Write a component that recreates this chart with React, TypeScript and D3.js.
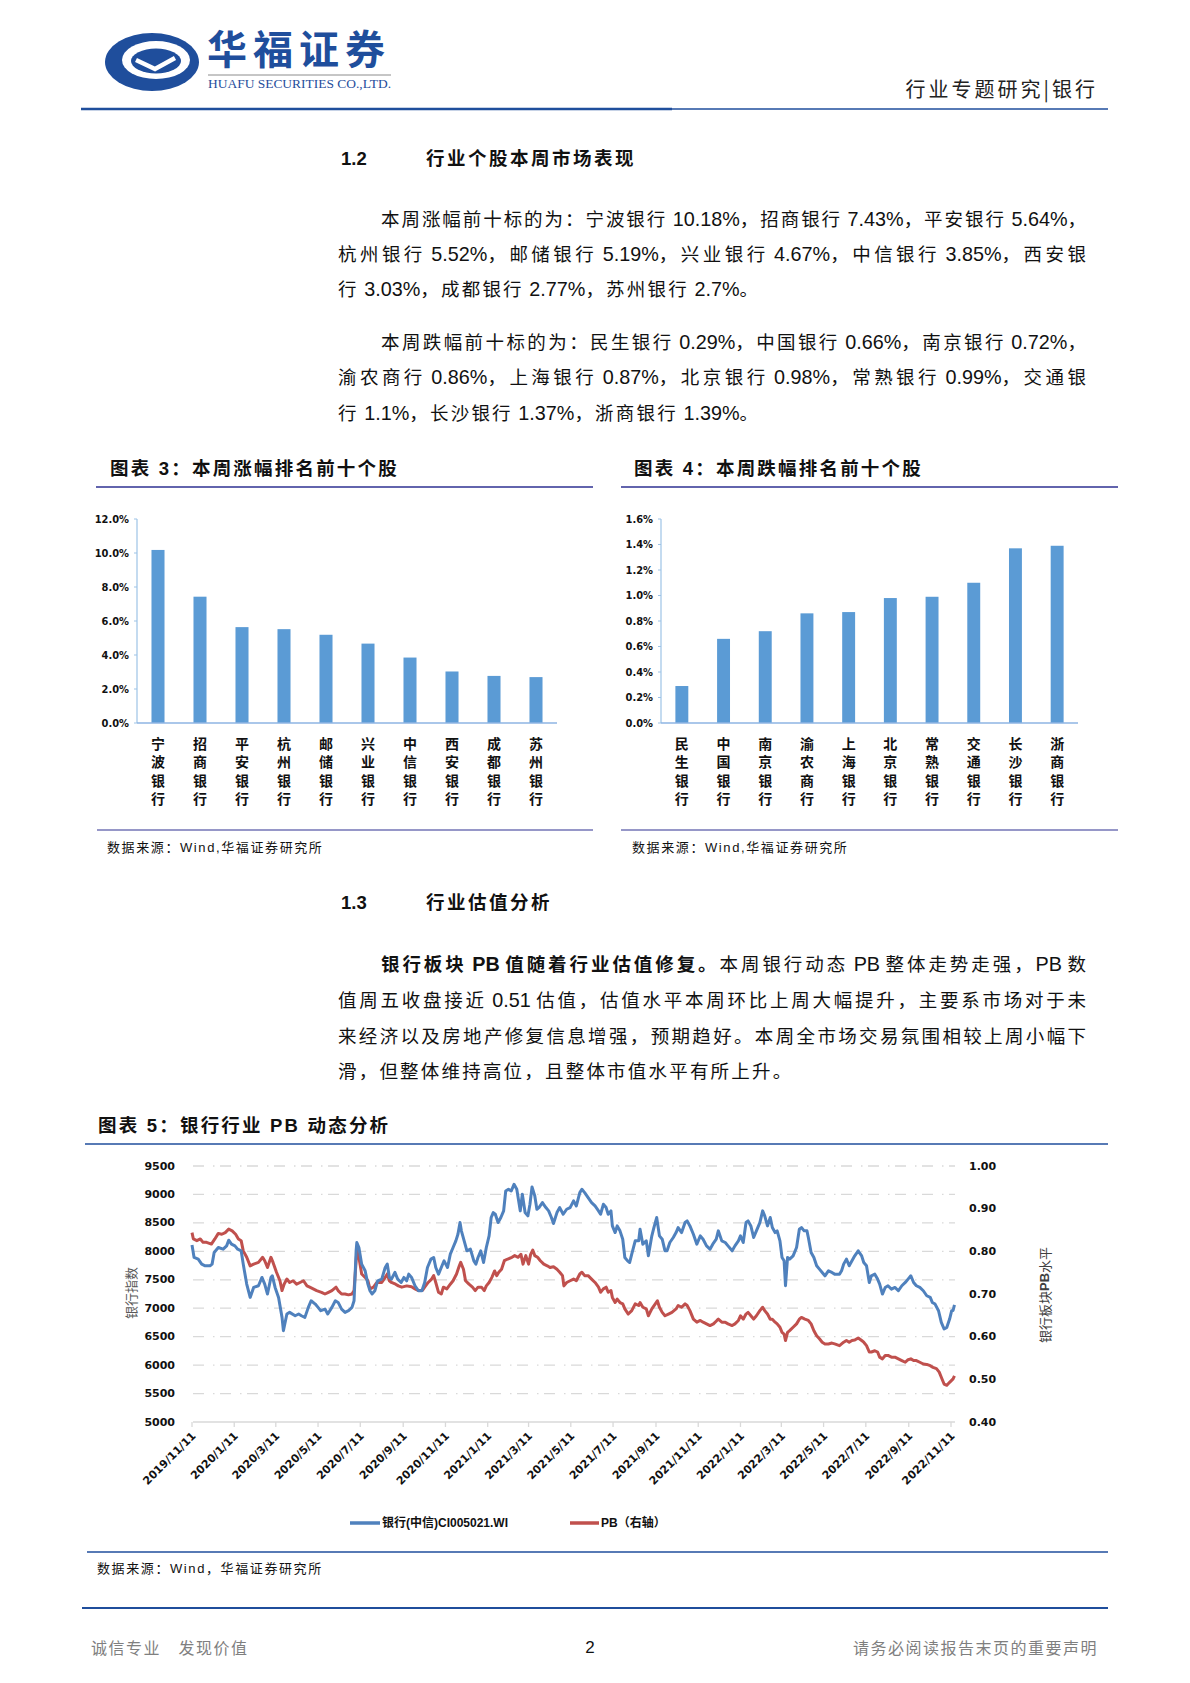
import React, { useLayoutEffect, useRef, useState } from "react";
import * as d3 from "d3";

// ---- data: 本周涨幅 / 跌幅前十 ----
const gainNames = ["宁波银行", "招商银行", "平安银行", "杭州银行", "邮储银行", "兴业银行", "中信银行", "西安银行", "成都银行", "苏州银行"];
const gainValues = [10.18, 7.43, 5.64, 5.52, 5.19, 4.67, 3.85, 3.03, 2.77, 2.7];
const lossNames = ["民生银行", "中国银行", "南京银行", "渝农商行", "上海银行", "北京银行", "常熟银行", "交通银行", "长沙银行", "浙商银行"];
const lossValues = [0.29, 0.66, 0.72, 0.86, 0.87, 0.98, 0.99, 1.1, 1.37, 1.39];

// ---- data: 银行(中信) 指数 ----
const bankDates = [
  "2019-11-11", "2019-11-14", "2019-11-20", "2019-11-25", "2019-11-30", "2019-12-07", "2019-12-10", "2019-12-13", "2019-12-19", "2019-12-26",
  "2019-12-31", "2020-01-03", "2020-01-07", "2020-01-12", "2020-01-16", "2020-01-21", "2020-01-24", "2020-01-29", "2020-02-03", "2020-02-08",
  "2020-02-15", "2020-02-20", "2020-02-24", "2020-02-28", "2020-03-04", "2020-03-06", "2020-03-10", "2020-03-15", "2020-03-20", "2020-03-22",
  "2020-03-24", "2020-03-27", "2020-03-31", "2020-04-08", "2020-04-13", "2020-04-17", "2020-04-22", "2020-04-27", "2020-05-01", "2020-05-07",
  "2020-05-11", "2020-05-15", "2020-05-21", "2020-05-25", "2020-05-31", "2020-06-05", "2020-06-09", "2020-06-14", "2020-06-19", "2020-06-24",
  "2020-06-29", "2020-07-02", "2020-07-05", "2020-07-06", "2020-07-09", "2020-07-13", "2020-07-18", "2020-07-22", "2020-07-25", "2020-07-28",
  "2020-08-01", "2020-08-05", "2020-08-11", "2020-08-16", "2020-08-19", "2020-08-22", "2020-08-25", "2020-08-30", "2020-09-03", "2020-09-08",
  "2020-09-12", "2020-09-16", "2020-09-19", "2020-09-23", "2020-09-28", "2020-10-03", "2020-10-08", "2020-10-12", "2020-10-16", "2020-10-21",
  "2020-10-25", "2020-10-28", "2020-11-01", "2020-11-06", "2020-11-09", "2020-11-14", "2020-11-18", "2020-11-22", "2020-11-26", "2020-11-29",
  "2020-12-02", "2020-12-04", "2020-12-08", "2020-12-12", "2020-12-17", "2020-12-22", "2020-12-25", "2020-12-28", "2021-01-01", "2021-01-05",
  "2021-01-09", "2021-01-13", "2021-01-16", "2021-01-19", "2021-01-22", "2021-01-26", "2021-01-30", "2021-02-03", "2021-02-06", "2021-02-10",
  "2021-02-14", "2021-02-18", "2021-02-22", "2021-02-27", "2021-03-02", "2021-03-06", "2021-03-10", "2021-03-13", "2021-03-16", "2021-03-20",
  "2021-03-23", "2021-03-26", "2021-03-31", "2021-04-05", "2021-04-09", "2021-04-13", "2021-04-16", "2021-04-21", "2021-04-25", "2021-04-30",
  "2021-05-05", "2021-05-10", "2021-05-15", "2021-05-19", "2021-05-24", "2021-05-27", "2021-05-31", "2021-06-05", "2021-06-10", "2021-06-15",
  "2021-06-20", "2021-06-23", "2021-06-27", "2021-07-01", "2021-07-04", "2021-07-08", "2021-07-10", "2021-07-14", "2021-07-17", "2021-07-21",
  "2021-07-25", "2021-07-28", "2021-08-01", "2021-08-04", "2021-08-07", "2021-08-12", "2021-08-17", "2021-08-19", "2021-08-23", "2021-08-28",
  "2021-08-31", "2021-09-05", "2021-09-08", "2021-09-12", "2021-09-16", "2021-09-20", "2021-09-24", "2021-09-27", "2021-10-01", "2021-10-06",
  "2021-10-10", "2021-10-13", "2021-10-18", "2021-10-23", "2021-10-26", "2021-10-30", "2021-11-04", "2021-11-09", "2021-11-14", "2021-11-18",
  "2021-11-23", "2021-11-28", "2021-12-02", "2021-12-07", "2021-12-10", "2021-12-15", "2021-12-20", "2021-12-24", "2021-12-30", "2022-01-03",
  "2022-01-08", "2022-01-11", "2022-01-15", "2022-01-19", "2022-01-22", "2022-01-26", "2022-01-30", "2022-02-03", "2022-02-08", "2022-02-12",
  "2022-02-15", "2022-02-19", "2022-02-23", "2022-02-26", "2022-03-02", "2022-03-05", "2022-03-09", "2022-03-12", "2022-03-15", "2022-03-17",
  "2022-03-20", "2022-03-23", "2022-03-28", "2022-04-02", "2022-04-06", "2022-04-09", "2022-04-13", "2022-04-17", "2022-04-19", "2022-04-23",
  "2022-04-27", "2022-05-01", "2022-05-05", "2022-05-09", "2022-05-13", "2022-05-18", "2022-05-23", "2022-05-27", "2022-06-03", "2022-06-06",
  "2022-06-09", "2022-06-13", "2022-06-17", "2022-06-21", "2022-06-25", "2022-06-30", "2022-07-05", "2022-07-08", "2022-07-12", "2022-07-16",
  "2022-07-19", "2022-07-24", "2022-07-28", "2022-07-31", "2022-08-04", "2022-08-08", "2022-08-12", "2022-08-17", "2022-08-22", "2022-08-27",
  "2022-09-01", "2022-09-06", "2022-09-10", "2022-09-14", "2022-09-18", "2022-09-22", "2022-09-27", "2022-10-02", "2022-10-07", "2022-10-12",
  "2022-10-15", "2022-10-19", "2022-10-24", "2022-10-28", "2022-11-01", "2022-11-05", "2022-11-09", "2022-11-12", "2022-11-14", "2022-11-16",
];
const bankValues = [
  8110, 7892, 7863, 7775, 7746, 7746, 7775, 7980, 8067, 8038,
  8096, 8196, 8126, 8096, 8038, 8009, 7775, 7424, 7190, 7365,
  7395, 7541, 7424, 7249, 7541, 7570, 7365, 7190, 6839, 6605,
  6722, 6898, 6927, 6868, 6898, 6868, 6839, 7015, 7131, 7073,
  7015, 6956, 6985, 6898, 7015, 7131, 7102, 6985, 6927, 6956,
  7015, 7131, 8009, 8155, 8067, 7775, 7658, 7424, 7307, 7249,
  7307, 7482, 7512, 7716, 7775, 7541, 7512, 7629, 7512, 7453,
  7541, 7482, 7599, 7541, 7395, 7307, 7307, 7453, 7716, 7863,
  7892, 7716, 7599, 7746, 7833, 7716, 7950, 8067, 8184, 8301,
  8506, 8360, 8184, 8009, 8038, 7833, 7775, 7892, 8009, 7804,
  8067, 8272, 8594, 8681, 8652, 8506, 8594, 8711, 9061, 9091,
  9061, 9178, 9091, 8711, 9003, 8681, 8623, 8827, 9132, 8974,
  8740, 8769, 8857, 8769, 8711, 8594, 8488, 8681, 8769, 8652,
  8740, 8769, 8886, 8798, 9032, 9091, 9032, 8944, 8857, 8798,
  8711, 8652, 8827, 8769, 8652, 8711, 8447, 8330, 8447, 8360,
  8213, 7892, 7833, 7804, 7950, 8184, 8184, 8389, 8126, 8184,
  7921, 8272, 8418, 8594, 8272, 8213, 8009, 8009, 8155, 8243,
  8330, 8418, 8330, 8506, 8535, 8447, 8301, 8126, 8272, 8213,
  8096, 8038, 8126, 8213, 8360, 8184, 8155, 8096, 8009, 8096,
  8184, 8272, 8155, 8506, 8535, 8447, 8243, 8360, 8506, 8711,
  8623, 8447, 8594, 8418, 8330, 8360, 8184, 7892, 7833, 7395,
  7892, 7863, 7921, 8067, 8389, 8418, 8360, 8360, 8243, 7980,
  7892, 7746, 7687, 7629, 7570, 7658, 7629, 7599, 7599, 7658,
  7775, 7863, 7746, 7833, 7921, 8009, 7921, 7804, 7746, 7453,
  7570, 7599, 7512, 7424, 7249, 7365, 7395, 7336, 7365, 7307,
  7395, 7453, 7512, 7570, 7453, 7395, 7365, 7307, 7219, 7190,
  7102, 7073, 6956, 6751, 6635, 6664, 6810, 6956, 6960, 7060,
];

// ---- data: PB（右轴）----
const pbDates = [
  "2019-11-11", "2019-11-13", "2019-11-18", "2019-11-23", "2019-11-27", "2019-12-02", "2019-12-09", "2019-12-14", "2019-12-19", "2019-12-24",
  "2019-12-29", "2020-01-03", "2020-01-08", "2020-01-13", "2020-01-17", "2020-01-21", "2020-01-24", "2020-01-29", "2020-02-03", "2020-02-08",
  "2020-02-15", "2020-02-21", "2020-02-24", "2020-02-28", "2020-03-04", "2020-03-07", "2020-03-12", "2020-03-17", "2020-03-20", "2020-03-23",
  "2020-03-27", "2020-03-31", "2020-04-05", "2020-04-10", "2020-04-15", "2020-04-20", "2020-04-25", "2020-04-29", "2020-05-04", "2020-05-09",
  "2020-05-16", "2020-05-21", "2020-05-26", "2020-05-31", "2020-06-06", "2020-06-09", "2020-06-14", "2020-06-19", "2020-06-24", "2020-06-29",
  "2020-07-02", "2020-07-05", "2020-07-06", "2020-07-09", "2020-07-13", "2020-07-18", "2020-07-22", "2020-07-25", "2020-07-30", "2020-08-04",
  "2020-08-11", "2020-08-16", "2020-08-19", "2020-08-22", "2020-08-25", "2020-08-31", "2020-09-04", "2020-09-09", "2020-09-16", "2020-09-23",
  "2020-09-28", "2020-10-03", "2020-10-09", "2020-10-12", "2020-10-17", "2020-10-22", "2020-10-25", "2020-10-28", "2020-11-01", "2020-11-05",
  "2020-11-08", "2020-11-13", "2020-11-18", "2020-11-22", "2020-11-27", "2020-12-01", "2020-12-03", "2020-12-07", "2020-12-10", "2020-12-15",
  "2020-12-20", "2020-12-24", "2020-12-28", "2021-01-02", "2021-01-06", "2021-01-09", "2021-01-13", "2021-01-17", "2021-01-21", "2021-01-24",
  "2021-01-27", "2021-01-31", "2021-02-04", "2021-02-09", "2021-02-15", "2021-02-19", "2021-02-24", "2021-02-28", "2021-03-03", "2021-03-07",
  "2021-03-11", "2021-03-14", "2021-03-17", "2021-03-20", "2021-03-24", "2021-03-28", "2021-04-02", "2021-04-07", "2021-04-11", "2021-04-16",
  "2021-04-21", "2021-04-25", "2021-04-29", "2021-05-01", "2021-05-05", "2021-05-10", "2021-05-15", "2021-05-19", "2021-05-24", "2021-05-27",
  "2021-05-31", "2021-06-05", "2021-06-10", "2021-06-15", "2021-06-20", "2021-06-23", "2021-06-27", "2021-07-01", "2021-07-04", "2021-07-08",
  "2021-07-10", "2021-07-14", "2021-07-17", "2021-07-21", "2021-07-25", "2021-07-28", "2021-08-02", "2021-08-07", "2021-08-12", "2021-08-17",
  "2021-08-19", "2021-08-23", "2021-08-28", "2021-08-31", "2021-09-05", "2021-09-10", "2021-09-13", "2021-09-16", "2021-09-20", "2021-09-24",
  "2021-09-29", "2021-10-04", "2021-10-10", "2021-10-13", "2021-10-18", "2021-10-23", "2021-10-26", "2021-10-30", "2021-11-04", "2021-11-09",
  "2021-11-14", "2021-11-18", "2021-11-23", "2021-11-28", "2021-12-03", "2021-12-08", "2021-12-10", "2021-12-15", "2021-12-20", "2021-12-24",
  "2021-12-30", "2022-01-03", "2022-01-08", "2022-01-11", "2022-01-15", "2022-01-19", "2022-01-22", "2022-01-26", "2022-01-30", "2022-02-03",
  "2022-02-08", "2022-02-12", "2022-02-15", "2022-02-19", "2022-02-23", "2022-02-26", "2022-03-02", "2022-03-05", "2022-03-09", "2022-03-12",
  "2022-03-15", "2022-03-17", "2022-03-20", "2022-03-23", "2022-03-28", "2022-04-02", "2022-04-06", "2022-04-09", "2022-04-14", "2022-04-19",
  "2022-04-23", "2022-04-27", "2022-05-01", "2022-05-05", "2022-05-09", "2022-05-13", "2022-05-18", "2022-05-23", "2022-05-27", "2022-06-03",
  "2022-06-06", "2022-06-09", "2022-06-13", "2022-06-17", "2022-06-21", "2022-06-25", "2022-06-30", "2022-07-05", "2022-07-08", "2022-07-12",
  "2022-07-16", "2022-07-19", "2022-07-24", "2022-07-28", "2022-07-31", "2022-08-04", "2022-08-08", "2022-08-12", "2022-08-17", "2022-08-22",
  "2022-08-27", "2022-09-01", "2022-09-06", "2022-09-10", "2022-09-14", "2022-09-18", "2022-09-22", "2022-09-27", "2022-10-02", "2022-10-07",
  "2022-10-12", "2022-10-16", "2022-10-21", "2022-10-25", "2022-10-28", "2022-11-01", "2022-11-05", "2022-11-09", "2022-11-14", "2022-11-16",
];
const pbValues = [
  0.844, 0.829, 0.825, 0.829, 0.821, 0.821, 0.817, 0.829, 0.842, 0.84,
  0.844, 0.852, 0.848, 0.84, 0.829, 0.825, 0.801, 0.786, 0.766, 0.77,
  0.774, 0.786, 0.778, 0.762, 0.786, 0.774, 0.751, 0.731, 0.708, 0.723,
  0.735, 0.727, 0.731, 0.723, 0.727, 0.731, 0.719, 0.716, 0.712, 0.708,
  0.704, 0.7, 0.704, 0.708, 0.716, 0.708, 0.7, 0.7, 0.698, 0.7,
  0.708, 0.778, 0.801, 0.786, 0.747, 0.739, 0.731, 0.712, 0.716, 0.727,
  0.727, 0.739, 0.747, 0.731, 0.727, 0.723, 0.719, 0.716, 0.719, 0.717,
  0.712, 0.708, 0.709, 0.716, 0.727, 0.735, 0.743, 0.727, 0.704, 0.7,
  0.716, 0.712, 0.723, 0.731, 0.747, 0.766, 0.774, 0.758, 0.731, 0.723,
  0.716, 0.708, 0.716, 0.716, 0.708, 0.719, 0.727, 0.739, 0.754, 0.743,
  0.751, 0.758, 0.778, 0.782, 0.786, 0.79, 0.786, 0.793, 0.77, 0.79,
  0.77, 0.793, 0.803, 0.79, 0.786, 0.778, 0.77, 0.766, 0.762, 0.764,
  0.758, 0.751, 0.743, 0.719, 0.727, 0.731, 0.735, 0.731, 0.747, 0.751,
  0.743, 0.743, 0.735, 0.727, 0.716, 0.704, 0.712, 0.716, 0.704, 0.708,
  0.692, 0.68, 0.688, 0.68, 0.677, 0.665, 0.653, 0.661, 0.677, 0.673,
  0.68, 0.669, 0.665, 0.649, 0.665, 0.677, 0.684, 0.669, 0.657, 0.649,
  0.653, 0.657, 0.665, 0.673, 0.669, 0.677, 0.673, 0.661, 0.641, 0.634,
  0.638, 0.634, 0.63, 0.626, 0.63, 0.638, 0.641, 0.634, 0.634, 0.63,
  0.626, 0.63, 0.638, 0.649, 0.641, 0.653, 0.657, 0.649, 0.641, 0.649,
  0.661, 0.669, 0.661, 0.653, 0.641, 0.641, 0.634, 0.63, 0.622, 0.61,
  0.606, 0.591, 0.61, 0.614, 0.622, 0.63, 0.641, 0.645, 0.641, 0.638,
  0.63, 0.614, 0.602, 0.595, 0.587, 0.583, 0.583, 0.585, 0.583, 0.579,
  0.583, 0.587, 0.591, 0.587, 0.591, 0.592, 0.597, 0.591, 0.587, 0.579,
  0.564, 0.564, 0.567, 0.564, 0.552, 0.548, 0.556, 0.556, 0.552, 0.552,
  0.548, 0.544, 0.54, 0.546, 0.548, 0.544, 0.544, 0.54, 0.536, 0.535,
  0.532, 0.528, 0.525, 0.517, 0.505, 0.489, 0.486, 0.493, 0.501, 0.508,
];

const xTickLabels = [
  "2019/11/11", "2020/1/11", "2020/3/11", "2020/5/11", "2020/7/11", "2020/9/11", "2020/11/11", "2021/1/11", "2021/3/11", "2021/5/11",
  "2021/7/11", "2021/9/11", "2021/11/11", "2022/1/11", "2022/3/11", "2022/5/11", "2022/7/11", "2022/9/11", "2022/11/11",
];
const leftTicks = [5000, 5500, 6000, 6500, 7000, 7500, 8000, 8500, 9000, 9500];
const rightTicks = [0.4, 0.5, 0.6, 0.7, 0.8, 0.9, 1.0];

const CJK = '"Noto Sans CJK SC", sans-serif';
const MIX = '"Liberation Sans", Arial, "Noto Sans CJK SC", sans-serif';
const NAVY = "#1F4E9C";
const BAR = "#5B9BD5";

type BarProps = {
  names: string[];
  values: number[];
  x0: number;
  x1: number;
  max: number;
  step: number;
};

function BarChart({ names, values, x0, x1, max, step }: BarProps) {
  const top = 519;
  const bottom = 723;
  const x = d3.scaleBand().domain(names).range([x0, x1]).paddingInner(0.69).paddingOuter(0.345);
  const y = d3.scaleLinear().domain([0, max]).range([bottom, top]);
  const ticks = d3.range(0, max + step / 2, step);
  return (
    <g>
      {names.map((n, i) => (
        <rect key={n} x={x(n)} y={y(values[i])} width={x.bandwidth()} height={bottom - y(values[i])} fill={BAR} />
      ))}
      <line x1={x0} x2={x0} y1={top} y2={bottom} stroke="#9DC3E6" strokeWidth={1.2} />
      <line x1={x0} x2={x1} y1={bottom} y2={bottom} stroke="#8EB4E3" strokeWidth={1.5} />
      {ticks.map((t) => (
        <g key={t}>
          <line x1={x0 - 3} x2={x0} y1={y(t)} y2={y(t)} stroke="#9DC3E6" />
          <text x={x0 - 8} y={y(t)} dominantBaseline="central" textAnchor="end" fontFamily='"DejaVu Sans Condensed", "DejaVu Sans", sans-serif' fontWeight="bold" fontSize={11} fill="#111">
            {t.toFixed(1) + "%"}
          </text>
        </g>
      ))}
      {names.map((n) => (
        <text key={"l" + n} textAnchor="middle" fontFamily={CJK} fontWeight={700} fontSize={14} fill="#111">
          {n.split("").map((c, j) => (
            <tspan key={j} x={(x(n) as number) + x.bandwidth() / 2} y={743 + j * 18.3} dominantBaseline="central">
              {c}
            </tspan>
          ))}
        </text>
      ))}
    </g>
  );
}

function LineChart() {
  const parse = d3.timeParse("%Y-%m-%d");
  const parseTick = d3.timeParse("%Y/%m/%d");
  const left = 193;
  const right = 955;
  const top = 1166;
  const bottom = 1422;
  const x = d3.scaleTime().domain([parseTick("2019/11/11") as Date, parseTick("2022/11/11") as Date]).range([192, 951]);
  const yL = d3.scaleLinear().domain([5000, 9500]).range([bottom, top]);
  const yR = d3.scaleLinear().domain([0.4, 1.0]).range([bottom, top]);
  const bankPts: [Date, number][] = bankDates.map((d, i) => [parse(d) as Date, bankValues[i]]);
  const pbPts: [Date, number][] = pbDates.map((d, i) => [parse(d) as Date, pbValues[i]]);
  const bankLine = d3.line<[Date, number]>().x((d) => x(d[0])).y((d) => yL(d[1]));
  const pbLine = d3.line<[Date, number]>().x((d) => x(d[0])).y((d) => yR(d[1]));
  const axisFont = '"DejaVu Sans", Verdana, sans-serif';
  return (
    <g>
      {leftTicks.slice(1).map((t) => (
        <line key={t} x1={left} x2={right} y1={yL(t)} y2={yL(t)} stroke="#D9D9D9" strokeWidth={1.3} strokeDasharray="11 9 1.5 5.5" />
      ))}
      <line x1={left} x2={right} y1={bottom} y2={bottom} stroke="#D9D9D9" strokeWidth={1.5} />
      {xTickLabels.map((l) => {
        const tx = x(parseTick(l) as Date);
        return (
          <g key={l}>
            <line x1={tx} x2={tx} y1={bottom} y2={bottom + 5} stroke="#D9D9D9" strokeWidth={1.3} />
            <text transform={`translate(${tx + 2},${bottom + 12}) rotate(-45)`} textAnchor="end" dominantBaseline="central" fontFamily={axisFont} fontWeight="bold" fontSize={11} fill="#111">
              {l}
            </text>
          </g>
        );
      })}
      {leftTicks.map((t) => (
        <text key={t} x={175} y={yL(t)} textAnchor="end" dominantBaseline="central" fontFamily={axisFont} fontWeight="bold" fontSize={11} fill="#111">
          {t}
        </text>
      ))}
      {rightTicks.map((t) => (
        <text key={t} x={969} y={yR(t)} dominantBaseline="central" fontFamily={axisFont} fontWeight="bold" fontSize={11} fill="#111">
          {t.toFixed(2)}
        </text>
      ))}
      <path d={pbLine(pbPts) as string} fill="none" stroke="#C0504D" strokeWidth={3} strokeLinejoin="round" />
      <path d={bankLine(bankPts) as string} fill="none" stroke="#4F81BD" strokeWidth={3} strokeLinejoin="round" />
      <text transform="translate(130,1293) rotate(-90)" textAnchor="middle" dominantBaseline="central" fontFamily={CJK} fontSize={13} fill="#595959">
        银行指数
      </text>
      <text transform="translate(1044,1295) rotate(-90)" textAnchor="middle" dominantBaseline="central" fontFamily={CJK} fontSize={13} fill="#404040">
        银行板块<tspan fontWeight="bold" fontFamily={MIX}>PB</tspan>水平
      </text>
      <line x1={350} x2={380} y1={1523} y2={1523} stroke="#4F81BD" strokeWidth={3.5} />
      <text x={382} y={1523} dominantBaseline="central" fontFamily={MIX} fontWeight="bold" fontSize={12} fill="#111">
        银行(中信)CI005021.WI
      </text>
      <line x1={570} x2={599} y1={1523} y2={1523} stroke="#C0504D" strokeWidth={3.5} />
      <text x={601} y={1523} dominantBaseline="central" fontFamily={MIX} fontWeight="bold" fontSize={12} fill="#111">
        PB（右轴）
      </text>
    </g>
  );
}

type Part = { t: string; bold?: boolean };
type LineProps = { x: number; y: number; parts: Part[]; right?: number; size?: number; spacing?: number };

// one paragraph line; when `right` is given, CJK characters are spread so the line ends there
function TextLine({ x, y, parts, right, size = 18.5, spacing = 0.6 }: LineProps) {
  const ref = useRef<SVGTextElement | null>(null);
  const [ls, setLs] = useState(spacing);
  const runs = parts.flatMap((p) => (p.t.match(/[\x00-\x7F]+|[^\x00-\x7F]+/g) || []).map((r) => ({ t: r, bold: p.bold, cjk: /[^\x00-\x7F]/.test(r) })));
  const cjkCount = runs.filter((r) => r.cjk).reduce((s, r) => s + r.t.length, 0);
  const lastCjk = runs.length > 0 && runs[runs.length - 1].cjk;
  useLayoutEffect(() => {
    if (!right || !ref.current) return;
    const gaps = cjkCount - (lastCjk ? 1 : 0);
    const natural = ref.current.getComputedTextLength() - ls * cjkCount;
    if (gaps > 0) setLs((right - x - natural) / gaps);
    // eslint-disable-next-line react-hooks/exhaustive-deps
  }, []);
  return (
    <text ref={ref} x={x} y={y} dominantBaseline="central" fontFamily={MIX} fontSize={size} fill="#111">
      {runs.map((r, i) => (
        <tspan key={i} fontWeight={r.bold ? 700 : 400} letterSpacing={r.cjk ? ls : 0} fontSize={r.cjk ? size : size * 1.07}>
          {r.t}
        </tspan>
      ))}
    </text>
  );
}

function Label({ x, y, text, size = 18.5, bold = false, spacing = 0 }: { x: number; y: number; text: string; size?: number; bold?: boolean; spacing?: number }) {
  return (
    <text x={x} y={y} dominantBaseline="central" fontFamily={MIX} fontSize={size} fontWeight={bold ? 700 : 400} fill="#111" letterSpacing={spacing}>
      {text}
    </text>
  );
}

function Logo() {
  return (
    <g>
      <ellipse cx={152} cy={62} rx={47} ry={29} fill={NAVY} />
      <ellipse cx={156} cy={60} rx={34} ry={19} fill="#fff" />
      <ellipse cx={156} cy={61} rx={25} ry={12.5} fill={NAVY} />
      <path d="M136 60 L155 69 L175 58" fill="none" stroke="#fff" strokeWidth={4.5} strokeLinejoin="miter" />
      <text x={207} y={47} dominantBaseline="central" fontFamily={CJK} fontWeight={700} fontSize={40} fill={NAVY} letterSpacing={6}>
        华福证券
      </text>
      <line x1={208} x2={391} y1={75} y2={75} stroke="#8C8C8C" strokeWidth={1} />
      <text x={208} y={84} dominantBaseline="central" fontFamily='"Liberation Serif", serif' fontSize={12.5} fill={NAVY} textLength={183} lengthAdjust="spacingAndGlyphs">
        HUAFU SECURITIES CO.,LTD.
      </text>
    </g>
  );
}

export default function App() {
  return (
    <svg width={1190} height={1683} viewBox="0 0 1190 1683" style={{ position: "absolute", left: 0, top: 0, background: "#fff" }}>
      <rect width={1190} height={1683} fill="#fff" />
      <Logo />
      <text x={1098} y={88} textAnchor="end" dominantBaseline="central" fontFamily={CJK} fontSize={20} fill="#222" letterSpacing={3}>
        行业专题研究|银行
      </text>
      <line x1={81} x2={672} y1={109} y2={109} stroke={NAVY} strokeWidth={2.5} />
      <line x1={672} x2={1108} y1={109} y2={109} stroke={NAVY} strokeWidth={1.3} />

      {/* 1.2 */}
      <Label x={341} y={158} text="1.2" bold />
      <Label x={426} y={158} text="行业个股本周市场表现" bold spacing={2.5} />
      <TextLine x={381} y={219} right={1086} parts={[{ t: "本周涨幅前十标的为：宁波银行 10.18%，招商银行 7.43%，平安银行 5.64%，" }]} />
      <TextLine x={338} y={254} right={1086} parts={[{ t: "杭州银行 5.52%，邮储银行 5.19%，兴业银行 4.67%，中信银行 3.85%，西安银" }]} />
      <TextLine x={338} y={289} spacing={2.2} parts={[{ t: "行 3.03%，成都银行 2.77%，苏州银行 2.7%。" }]} />
      <TextLine x={381} y={342} right={1086} parts={[{ t: "本周跌幅前十标的为：民生银行 0.29%，中国银行 0.66%，南京银行 0.72%，" }]} />
      <TextLine x={338} y={377} right={1086} parts={[{ t: "渝农商行 0.86%，上海银行 0.87%，北京银行 0.98%，常熟银行 0.99%，交通银" }]} />
      <TextLine x={338} y={413} spacing={2.2} parts={[{ t: "行 1.1%，长沙银行 1.37%，浙商银行 1.39%。" }]} />

      {/* 图表 3 / 4 */}
      <Label x={110} y={468} text="图表 3：本周涨幅排名前十个股" bold spacing={2.2} />
      <Label x={634} y={468} text="图表 4：本周跌幅排名前十个股" bold spacing={2.2} />
      <line x1={96} x2={593} y1={487} y2={487} stroke="#2E3192" strokeWidth={1.3} />
      <line x1={621} x2={1118} y1={487} y2={487} stroke="#2E3192" strokeWidth={1.3} />
      <BarChart names={gainNames} values={gainValues} x0={137} x1={557} max={12} step={2} />
      <BarChart names={lossNames} values={lossValues} x0={661} x1={1078} max={1.6} step={0.2} />
      <line x1={97} x2={593} y1={830} y2={830} stroke="#2E3192" strokeWidth={1.2} />
      <line x1={621} x2={1118} y1={830} y2={830} stroke="#2E3192" strokeWidth={1.2} />
      <Label x={107} y={847} text="数据来源：Wind,华福证券研究所" size={13} spacing={1.6} />
      <Label x={632} y={847} text="数据来源：Wind,华福证券研究所" size={13} spacing={1.6} />

      {/* 1.3 */}
      <Label x={341} y={902} text="1.3" bold />
      <Label x={426} y={902} text="行业估值分析" bold spacing={2.5} />
      <TextLine x={381} y={964} right={1086} parts={[{ t: "银行板块 PB 值随着行业估值修复。", bold: true }, { t: "本周银行动态 PB 整体走势走强，PB 数" }]} />
      <TextLine x={338} y={1000} right={1086} parts={[{ t: "值周五收盘接近 0.51 估值，估值水平本周环比上周大幅提升，主要系市场对于未" }]} />
      <TextLine x={338} y={1036} right={1086} parts={[{ t: "来经济以及房地产修复信息增强，预期趋好。本周全市场交易氛围相较上周小幅下" }]} />
      <TextLine x={338} y={1071} spacing={2.2} parts={[{ t: "滑，但整体维持高位，且整体市值水平有所上升。" }]} />

      {/* 图表 5 */}
      <Label x={98} y={1125} text="图表 5：银行行业 PB 动态分析" bold spacing={2.2} />
      <line x1={85} x2={1108} y1={1144} y2={1144} stroke={NAVY} strokeWidth={1.5} />
      <LineChart />
      <line x1={87} x2={1108} y1={1552} y2={1552} stroke={NAVY} strokeWidth={1.3} />
      <Label x={97} y={1568} text="数据来源：Wind，华福证券研究所" size={13} spacing={1.6} />

      {/* footer */}
      <line x1={82} x2={1108} y1={1608} y2={1608} stroke={NAVY} strokeWidth={2} />
      <text x={91} y={1647} dominantBaseline="central" fontFamily={CJK} fontSize={16} fill="#7F7F7F" letterSpacing={1.5}>
        诚信专业　发现价值
      </text>
      <text x={590} y={1647} textAnchor="middle" dominantBaseline="central" fontFamily={MIX} fontSize={17} fill="#111">
        2
      </text>
      <text x={1098} y={1647} textAnchor="end" dominantBaseline="central" fontFamily={CJK} fontSize={16} fill="#7F7F7F" letterSpacing={1.5}>
        请务必阅读报告末页的重要声明
      </text>
    </svg>
  );
}
